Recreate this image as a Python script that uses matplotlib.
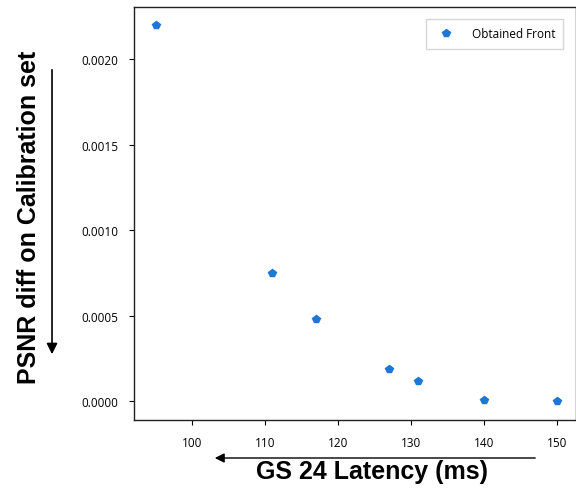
import matplotlib
matplotlib.use("Agg")
import matplotlib.pyplot as plt

# obtained pareto front
latency = [95, 111, 117, 127, 131, 140, 150]
psnr_diff = [0.00220, 0.00075, 0.00048, 0.000188, 0.000117, 0.000006, 0.0]
xticks = [100, 110, 120, 130, 140, 150]
yticks = [0.0, 0.0005, 0.0010, 0.0015, 0.0020]

fig = plt.figure(figsize=(5.76, 4.89), dpi=100)
ax = fig.add_axes([0.2326, 0.139, 0.7674, 0.8446])

ax.plot(latency, psnr_diff, linestyle='none', marker='p', markersize=6,
        color='#1f77d4', label='Obtained Front')

ax.set_xlim(92.05, 152.6)
ax.set_ylim(-0.000111, 0.002304)
ax.set_xticks(xticks)
ax.set_xticklabels([str(t) for t in xticks], family='Open Sans', fontsize=8.5)
ax.set_yticks(yticks)
ax.set_yticklabels(['%.4f' % t for t in yticks], family='Open Sans', fontsize=8.5)
ax.tick_params(length=3.5, width=0.8)
ax.tick_params(axis='x', pad=8)
ax.tick_params(axis='y', pad=8)
for s in ax.spines.values():
    s.set_linewidth(1.0)
    s.set_color('#222222')

leg = ax.legend(loc='upper right', bbox_to_anchor=(0.985, 0.985), prop={'family': 'Open Sans', 'size': 8.5},
                fancybox=False, edgecolor='#cccccc', handletextpad=1.2, borderpad=0.7)

fig.text(0.050, 0.556, 'PSNR diff on Calibration set', rotation=90, ha='center', va='center',
         family='Liberation Sans', fontweight='bold', fontsize=18)
fig.text(0.646, 0.035, 'GS 24 Latency (ms)', ha='center', va='center',
         family='Liberation Sans', fontweight='bold', fontsize=18)

# direction arrows
fig.patches.append(matplotlib.patches.FancyArrowPatch((0.0903, 1 - 68 / 489), (0.0903, 1 - 358 / 489),
                   transform=fig.transFigure, arrowstyle='-|>', mutation_scale=16, lw=1.2, color='black'))
fig.patches.append(matplotlib.patches.FancyArrowPatch((538 / 576, 1 - 459 / 489), (212 / 576, 1 - 459 / 489),
                   transform=fig.transFigure, arrowstyle='-|>', mutation_scale=14, lw=1.0, color='black'))

fig.savefig('out.png', dpi=100)
